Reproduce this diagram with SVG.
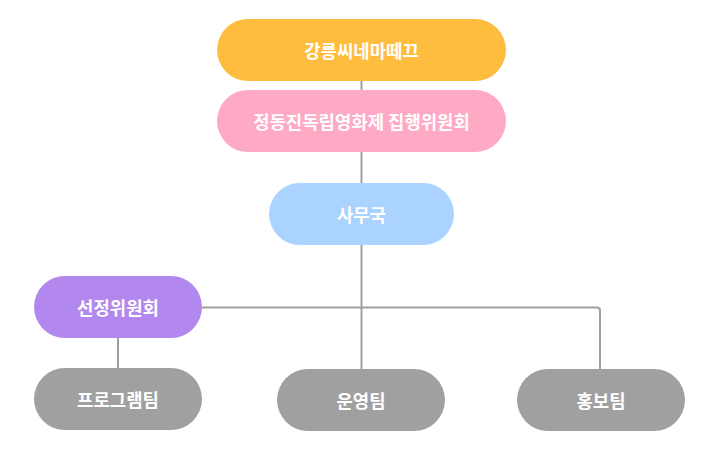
<svg xmlns="http://www.w3.org/2000/svg" width="720" height="450" viewBox="0 0 720 450">
<style>
.lbl{font-family:"Noto Sans CJK KR","Noto Sans",sans-serif;font-size:17.8px;font-weight:700;fill:#fff;text-anchor:middle;dominant-baseline:central}
.con{fill:none;stroke:#a0a0a0;stroke-width:2}
</style>
<rect width="720" height="450" fill="#fff"/>
<g id="connectors">
<path class="con" d="M361.5 81V90"/>
<path class="con" d="M361.5 152V183"/>
<path class="con" d="M361.5 245V369"/>
<path class="con" d="M202 307.5H597a3 3 0 0 1 3 3V369"/>
<path class="con" d="M118 338V368"/>
</g>
<g id="gangneung">
<rect x="217" y="19" width="289" height="62" rx="31" fill="#ffbd40"/>
<text class="lbl" x="361.5" y="49.5">강릉씨네마떼끄</text>
</g>
<g id="committee">
<rect x="217" y="90" width="289" height="62" rx="31" fill="#ffaac4"/>
<text class="lbl" x="361.5" y="120.5">정동진독립영화제 집행위원회</text>
</g>
<g id="office">
<rect x="269" y="183" width="185" height="62" rx="31" fill="#aad3ff"/>
<text class="lbl" x="361.5" y="213.5">사무국</text>
</g>
<g id="selection">
<rect x="34" y="276" width="168" height="62" rx="31" fill="#b388ee"/>
<text class="lbl" x="118" y="306.5">선정위원회</text>
</g>
<g id="program">
<rect x="34" y="368" width="168" height="62" rx="31" fill="#a0a0a0"/>
<text class="lbl" x="118" y="398.5">프로그램팀</text>
</g>
<g id="operation">
<rect x="277" y="369" width="168" height="62" rx="31" fill="#a0a0a0"/>
<text class="lbl" x="361" y="399.5">운영팀</text>
</g>
<g id="pr">
<rect x="517" y="369" width="168" height="62" rx="31" fill="#a0a0a0"/>
<text class="lbl" x="601" y="399.5">홍보팀</text>
</g>
</svg>
